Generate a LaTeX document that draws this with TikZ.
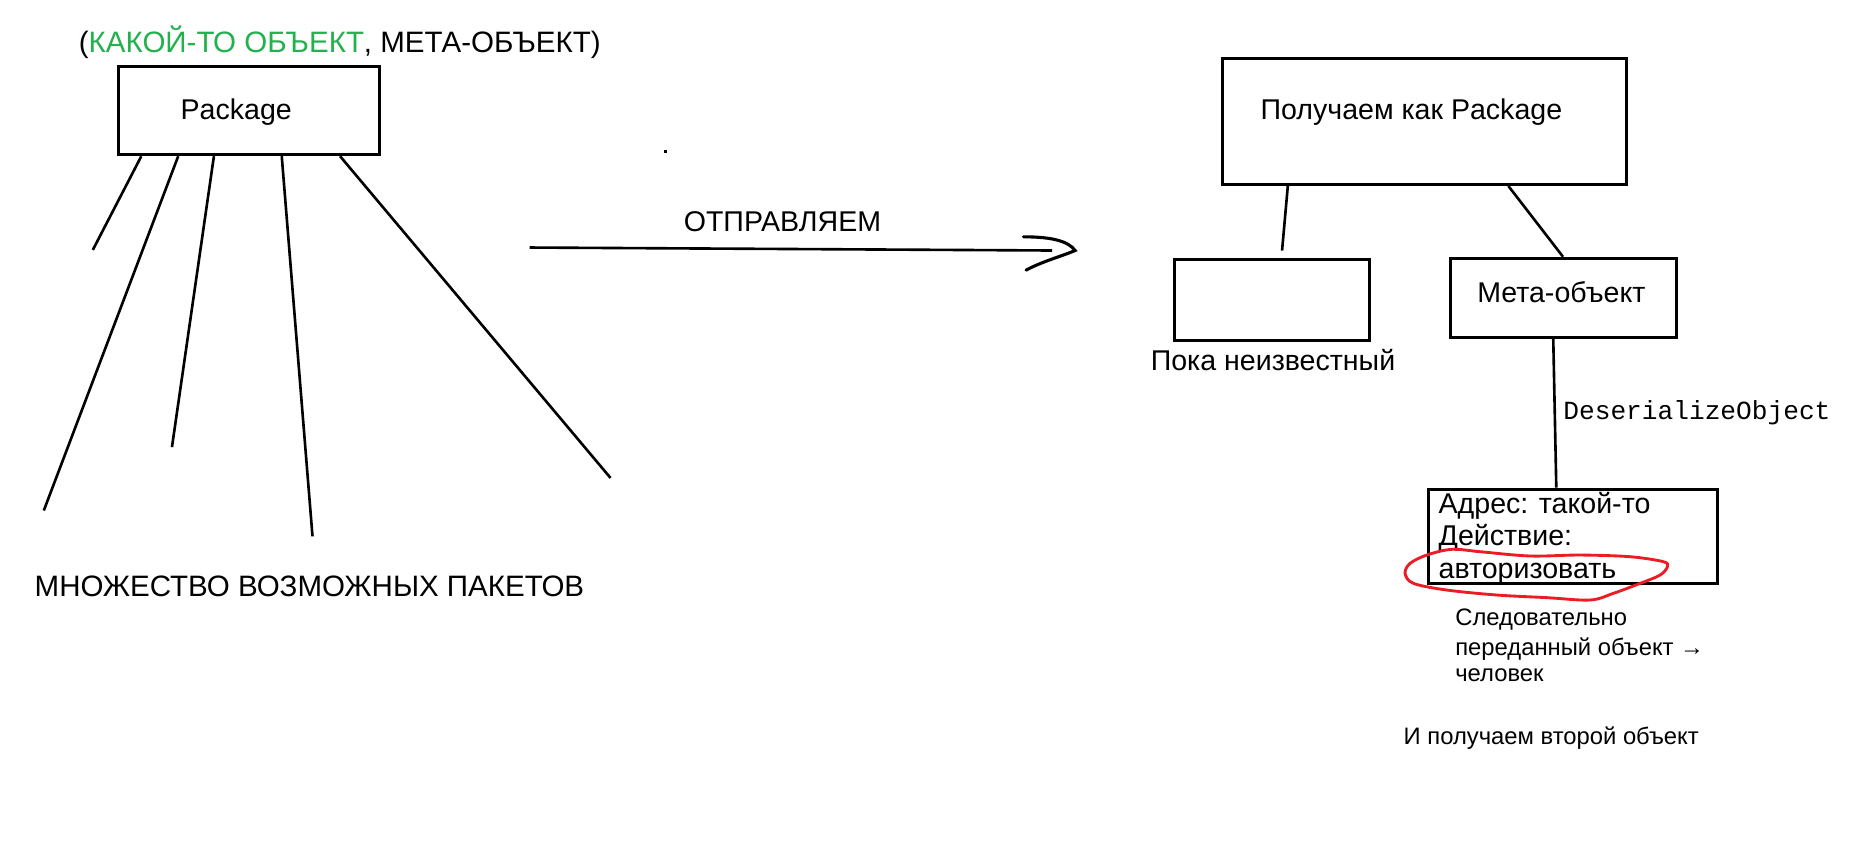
\documentclass[tikz,border=0pt]{standalone}
\usepackage{fontspec}
\setmainfont{Liberation Sans}
\setmonofont{Liberation Mono}
\usetikzlibrary{calc}
\definecolor{paintgreen}{RGB}{34,177,76}
\definecolor{paintred}{RGB}{237,28,36}
\begin{document}
\begin{tikzpicture}[x=1pt,y=-1pt,
  box/.style={draw,line width=2.5pt,inner sep=0pt},
  wire/.style={line width=2.2pt},
  txt/.style={inner sep=0pt,font=\fontsize{24}{28}\selectfont},
  caps/.style={inner sep=0pt,font=\fontsize{24.8}{28}\selectfont},
  small/.style={inner sep=0pt,font=\fontsize{20}{24}\selectfont},
  mono/.style={inner sep=0pt,font=\ttfamily\fontsize{22}{26}\selectfont},
  ring/.style={draw=paintred,line width=2.4pt}]
\useasboundingbox[fill=white] (0,0) rectangle (1568,727);

% left: the package and the many possible packets
\node[caps,anchor=base] (title) at (285.5,44.5) {(\textcolor{paintgreen}{КАКОЙ-ТО ОБЪЕКТ}, МЕТА-ОБЪЕКТ)};
\node[box,minimum width=219.6pt,minimum height=74.5pt] (pkg) at (209.2,92.75) {};
\node[txt,anchor=base] (pkgtext) at (198.5,100.5) {Package};

\coordinate (f1) at (78,210);
\coordinate (f2) at (36.8,429);
\coordinate (f3) at (144.5,375.7);
\coordinate (f4) at (262.6,450.7);
\coordinate (f5) at (513,401.6);
\draw[wire] ($(pkg.south west)+(20.6,0)$) -- (f1);
\draw[wire] ($(pkg.south west)+(51.6,0)$) -- (f2);
\draw[wire] ($(pkg.south west)+(81.6,0)$) -- (f3);
\draw[wire] ($(pkg.south west)+(138.6,0)$) -- (f4);
\draw[wire] ($(pkg.south west)+(187.6,0)$) -- (f5);
\node[caps,anchor=base] (many) at (260,501) {МНОЖЕСТВО ВОЗМОЖНЫХ ПАКЕТОВ};

% stray dot
\fill (557.8,126) rectangle ++(2.4,2.8);

% sending arrow with a hand-drawn head
\coordinate (sendA) at (445,208);
\coordinate (sendB) at (884,210.5);
\coordinate (sendTip) at (903.4,210.5);
\coordinate (barbUp) at (860,199);
\coordinate (barbDown) at (862.2,227);
\draw[wire] (sendA) -- (sendB);
\draw[line width=2.6pt,line cap=round] (barbUp) .. controls (885,199) and (898,203) .. (sendTip)
  .. controls (893,215) and (875,220) .. (barbDown);
\node[txt,anchor=base] (send) at (657.5,194.7) {ОТПРАВЛЯЕМ};

% right: what arrives
\node[box,minimum width=340pt,minimum height=106pt] (recv) at (1197,102) {};
\node[txt,anchor=base] (recvtext) at (1186,100) {Получаем как Package};

\node[box,minimum width=163.7pt,minimum height=68.7pt] (unknown) at (1068.9,252) {};
\node[txt,anchor=base] (unknowntext) at (1069.7,311) {Пока неизвестный};

\node[box,minimum width=190.3pt,minimum height=66.5pt] (meta) at (1313.9,250.3) {};
\node[txt,anchor=base] (metatext) at (1312,254.3) {Мета-объект};

\node[box,minimum width=243pt,minimum height=79pt] (addr) at (1321.5,450.5) {};

\coordinate (u1) at (1077.3,210.6);
\draw[wire] ($(recv.south west)+(56.4,0)$) -- (u1);
\draw[wire] ($(recv.south west)+(241.7,0)$) -- ($(meta.north west)+(95.9,0)$);
\draw[wire] ($(meta.south west)+(87.7,0)$) -- ($(addr.north west)+(109,0)$);
\node[mono,anchor=base west] (deser) at (1313.5,352.4) {DeserializeObject};

\node[txt,anchor=base west] (l1) at (1208.7,431.4) {Адрес: такой-то};
\node[txt,anchor=base west] (l2) at (1208.7,458) {Действие:};
\node[txt,anchor=base west] (l3) at (1208.7,486) {авторизовать};

% hand-drawn ring round the action
\draw[ring] plot[smooth cycle,tension=0.55] coordinates {
  (1219.9,461.6) (1243.7,463.6) (1285.7,467.2) (1327.7,466.4) (1369.7,467.8)
  (1397.7,472) (1401.1,476.2) (1395,483.2) (1378.2,490.2) (1355.7,498.6)
  (1336.1,504.2) (1299.7,502.2) (1257.7,500) (1215.7,495.8) (1187.7,490.2)
  (1180.7,481.8) (1184.9,473.4) (1198.9,466.4)};

\node[small,anchor=base west] (s1) at (1222.7,526) {Следовательно};
\node[small,anchor=base west] (s2) at (1222.7,550.4) {переданный объект →};
\node[small,anchor=base west] (s3) at (1222.7,572.8) {человек};
\node[small,anchor=base west] (second) at (1179.3,626) {И получаем второй объект};
\end{tikzpicture}
\end{document}
